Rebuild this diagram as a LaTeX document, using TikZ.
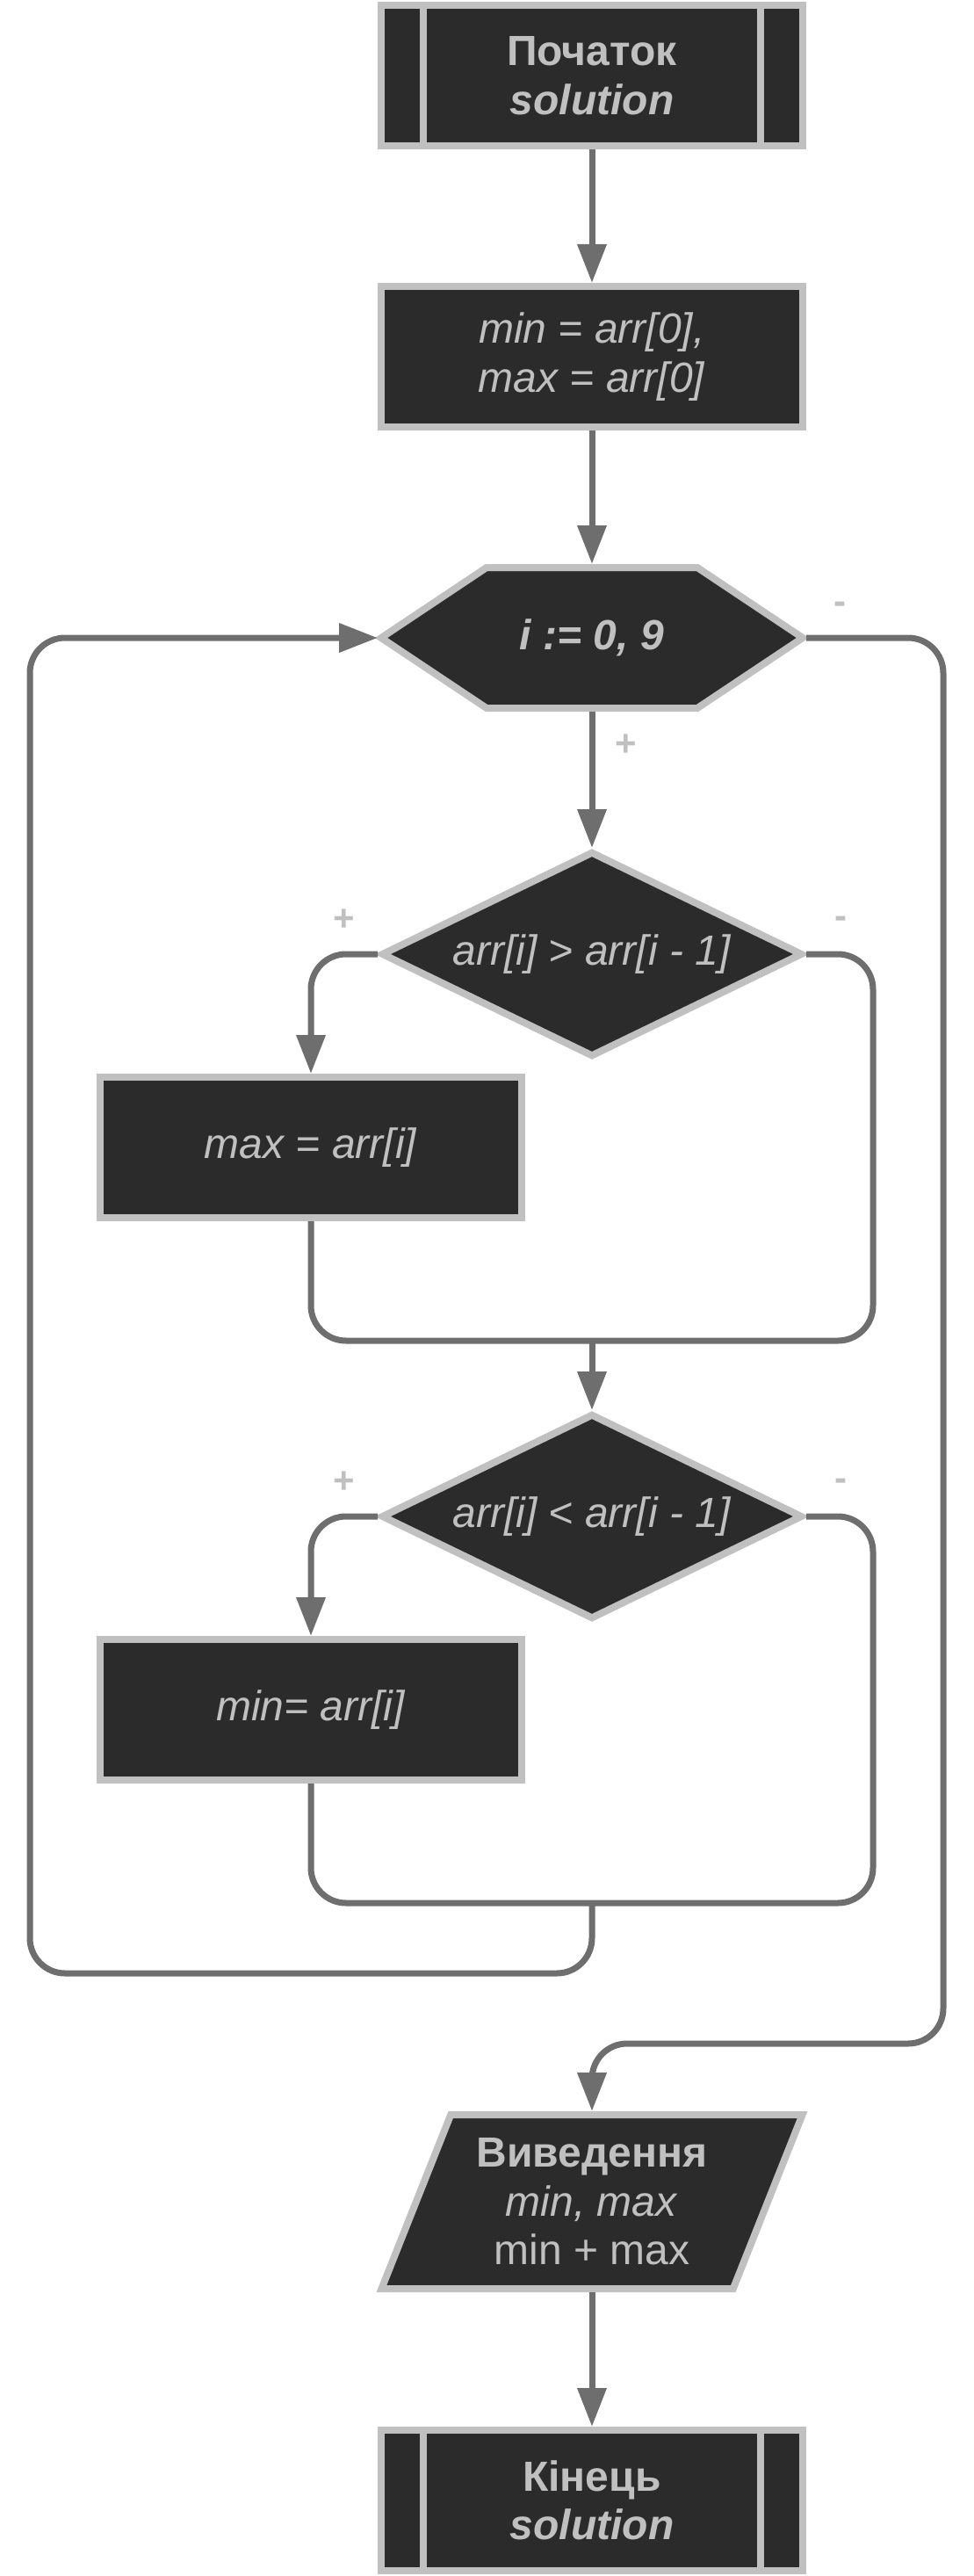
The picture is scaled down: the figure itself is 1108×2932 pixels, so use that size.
\documentclass[tikz,border=0pt]{standalone}
\usepackage{fontspec}
\setmainfont{Liberation Sans}
\usetikzlibrary{shapes.geometric,arrows.meta}
\definecolor{fonblok}{HTML}{2B2B2B}
\definecolor{ramka}{HTML}{C0C0C0}
\definecolor{liniya}{HTML}{6E6E6E}

\begin{document}
\begin{tikzpicture}[x=0.5pt,y=-0.5pt,
  blok/.style={rectangle, draw=ramka, fill=fonblok, line width=4pt, text=ramka,
    minimum width=240pt, minimum height=80pt, inner sep=0pt, align=center,
    font=\fontsize{24pt}{27.8pt}\selectfont},
  term/.style={blok, path picture={
    \draw[ramka, line width=4pt] ([xshift=24pt]path picture bounding box.north west) -- ([xshift=24pt]path picture bounding box.south west);
    \draw[ramka, line width=4pt] ([xshift=-24pt]path picture bounding box.north east) -- ([xshift=-24pt]path picture bounding box.south east);}},
  umova/.style={blok, diamond, aspect=2.05, minimum height=117pt},
  vyvid/.style={blok, trapezium, trapezium left angle=66, trapezium right angle=114,
    trapezium stretches, minimum height=99pt},
  lin/.style={liniya, line width=3.5pt, rounded corners=20pt},
  strilka/.style={lin, -{Triangle[length=22pt,width=16pt]}},
  znak/.style={text=ramka, inner sep=0pt, font=\fontsize{21pt}{24pt}\selectfont\bfseries}
]
\useasboundingbox (0,0) rectangle (1108,2932);

%блоки
\node[term] (start) at (674,86) {\textbf{Початок}\\\textbf{\textit{solution}}};
\node[blok] (init) at (674,406) {\textit{min = arr[0],}\\\textit{max = arr[0]}};

%цикл
\coordinate (cyklc) at (674,726);
\filldraw[draw=ramka, fill=fonblok, line width=4pt] (cyklc) ++(-240,0) -- ++(120,-80) -- ++(240,0)
  -- ++(120,80) -- ++(-120,80) -- ++(-240,0) -- cycle;
\node[blok, draw=none, fill=none] (cykl) at (cyklc) {\textbf{\textit{i := 0, 9}}};

\node[umova] (umova1) at (674,1086) {\textit{arr[i] > arr[i - 1]}};
\node[blok] (maks) at (354,1306) {\textit{max = arr[i]}};
\node[umova] (umova2) at (674,1726) {\textit{arr[i] < arr[i - 1]}};
\node[blok] (minim) at (354,1946) {\textit{min= arr[i]}};
\node[vyvid] (vyvid) at (674,2506) {\textbf{Виведення}\\\textit{min, max}\\min + max};
\node[term] (kinec) at (674,2846) {\textbf{Кінець}\\\textbf{\textit{solution}}};

\coordinate (zbig1) at (994,1526);
\coordinate (zbig2) at (994,2166);
\coordinate (povern) at (34,2246);
\coordinate (vyhid) at (1074,2326);

%з'єднання
\draw[strilka] (start) -- (init);
\draw[strilka] (init) -- (cykl);
\draw[strilka] (cykl) -- (umova1);
\draw[strilka] (umova1.west) -| (maks.north);
\draw[lin] (umova1.east) -| (zbig1) -| (maks.south);
\draw[strilka] (umova1 |- zbig1) -- (umova2);
\draw[strilka] (umova2.west) -| (minim.north);
\draw[lin] (umova2.east) -| (zbig2) -| (minim.south);
\draw[strilka] (umova2 |- zbig2) |- (povern) |- (cykl.west);
\draw[strilka] (cykl.east) -| (vyhid) -| (vyvid.north);
\draw[strilka] (vyvid) -- (kinec);

%знаки
\node[znak] (plus0) at ([shift={(39,38)}]cykl.south) {+};
\node[znak] (minus0) at ([shift={(38,-34)}]cykl.east) {-};
\node[znak] (plus1) at ([shift={(-38,-39)}]umova1.west) {+};
\node[znak] (minus1) at ([shift={(39,-36)}]umova1.east) {-};
\node[znak] (plus2) at ([shift={(-38,-39)}]umova2.west) {+};
\node[znak] (minus2) at ([shift={(39,-36)}]umova2.east) {-};
\end{tikzpicture}
\end{document}
